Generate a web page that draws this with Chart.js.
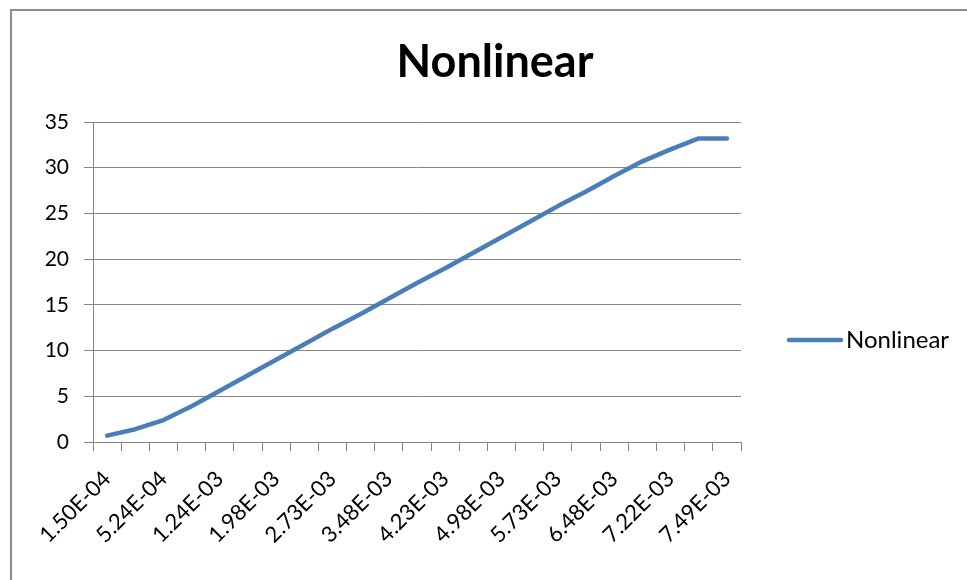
<!DOCTYPE html>
<html>
<head>
<meta charset="utf-8">
<script src="https://cdn.jsdelivr.net/npm/chart.js@4/dist/chart.umd.min.js"></script>
<style>
  html, body { margin: 0; padding: 0; background: #fff; }
  #chart { display: block; }
</style>
</head>
<body>
<canvas id="chart" width="967" height="580"></canvas>
<script>
// Category labels (only every other one is printed on the axis)
const categories = [
  '1.50E-04', '3.37E-04', '5.24E-04', '8.82E-04', '1.24E-03', '1.61E-03',
  '1.98E-03', '2.36E-03', '2.73E-03', '3.11E-03', '3.48E-03', '3.86E-03',
  '4.23E-03', '4.61E-03', '4.98E-03', '5.36E-03', '5.73E-03', '6.11E-03',
  '6.48E-03', '6.85E-03', '7.22E-03', '7.40E-03', '7.49E-03'
];

// Series values
const seriesName = 'Nonlinear';
const seriesValues = [
  0.7, 1.4, 2.4, 3.9, 5.6, 7.3, 9.0, 10.7, 12.4, 14.0, 15.7, 17.4,
  19.0, 20.7, 22.4, 24.1, 25.8, 27.4, 29.1, 30.7, 32.0, 33.2, 33.2
];

// Value axis range
const yMin = 0;
const yMax = 35;
const yStep = 5;

const chartTitle = 'Nonlinear';
const lineColor = '#4a7ebb';
const axisColor = '#868686';
const fontFamily = 'Lato, "Open Sans", sans-serif';

// Frame, title and side legend in the style of an office chart
const decorPlugin = {
  id: 'decor',
  beforeDraw(chart) {
    const ctx = chart.ctx;
    ctx.save();
    ctx.fillStyle = '#fff';
    ctx.fillRect(0, 0, chart.width, chart.height);
    ctx.strokeStyle = '#8c8c8c';
    ctx.lineWidth = 2;
    ctx.strokeRect(11, 10, chart.width + 50, chart.height + 50);
    ctx.restore();
  },
  afterDraw(chart) {
    const ctx = chart.ctx;
    const ds = chart.data.datasets[0];
    ctx.save();
    // title
    ctx.fillStyle = '#000';
    ctx.font = 'bold 45px ' + fontFamily;
    ctx.textAlign = 'center';
    ctx.textBaseline = 'middle';
    ctx.fillText(chartTitle, 495, 62);
    // legend entry
    const ly = 340;
    ctx.strokeStyle = ds.borderColor;
    ctx.lineWidth = ds.borderWidth;
    ctx.lineCap = 'round';
    ctx.beginPath();
    ctx.moveTo(789, ly);
    ctx.lineTo(841, ly);
    ctx.stroke();
    ctx.font = '24px ' + fontFamily;
    ctx.textAlign = 'left';
    ctx.fillText(ds.label, 846, ly);
    ctx.restore();
  }
};

new Chart(document.getElementById('chart'), {
  type: 'line',
  data: {
    labels: categories,
    datasets: [{
      label: seriesName,
      data: seriesValues,
      borderColor: lineColor,
      backgroundColor: lineColor,
      borderWidth: 4.5,
      borderCapStyle: 'round',
      borderJoinStyle: 'round',
      pointRadius: 0,
      pointHoverRadius: 0,
      tension: 0,
      fill: false
    }]
  },
  options: {
    responsive: false,
    animation: false,
    devicePixelRatio: 1,
    layout: { padding: { left: 12, right: 226, top: 122, bottom: 0 } },
    plugins: {
      legend: { display: false },
      title: { display: false },
      tooltip: { enabled: false }
    },
    scales: {
      x: {
        type: 'category',
        offset: true,
        grid: {
          offset: true,
          drawOnChartArea: false,
          drawTicks: true,
          tickLength: 9,
          color: axisColor,
          lineWidth: 1
        },
        border: { display: true, color: axisColor, width: 1 },
        ticks: {
          autoSkip: false,
          minRotation: 45,
          maxRotation: 45,
          padding: 15,
          color: '#000',
          font: { family: fontFamily, size: 22 },
          callback: (value, index) => (index % 2 === 0 ? categories[index] : '')
        },
        afterFit: (scale) => { scale.height = 138; }
      },
      y: {
        min: yMin,
        max: yMax,
        grid: {
          color: axisColor,
          lineWidth: 1,
          drawTicks: true,
          tickLength: 9
        },
        border: { display: true, color: axisColor, width: 1 },
        ticks: {
          stepSize: yStep,
          padding: 15,
          color: '#000',
          font: { family: fontFamily, size: 21 }
        },
        afterFit: (scale) => { scale.width = 81; }
      }
    }
  },
  plugins: [decorPlugin]
});
</script>
</body>
</html>
